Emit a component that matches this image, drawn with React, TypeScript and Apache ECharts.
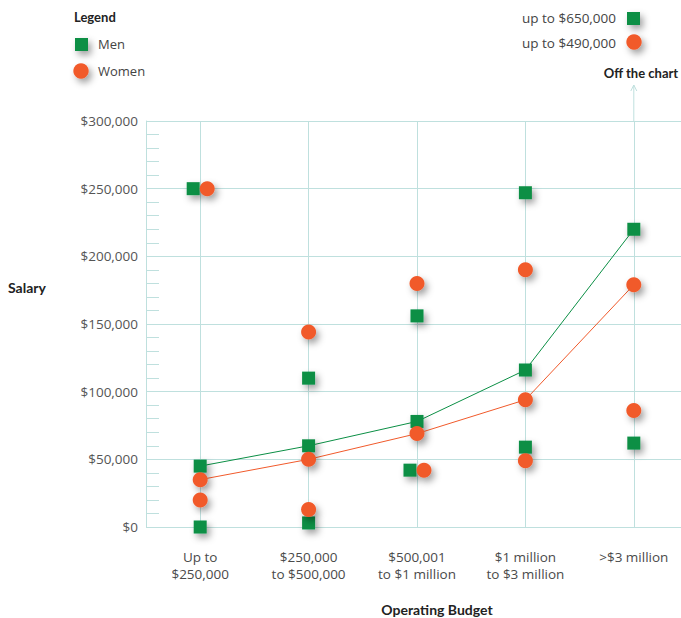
import React, { useEffect, useRef } from "react";
import * as echarts from "echarts";

const categories = [
  "Up to\n$250,000",
  "$250,000\nto $500,000",
  "$500,001\nto $1 million",
  "$1 million\nto $3 million",
  ">$3 million",
];
const yTicks = [0, 50000, 100000, 150000, 200000, 250000, 300000];
const menMedian = [45000, 60000, 78000, 116000, 220000];
const womenMedian = [35000, 50000, 69000, 94000, 179000];
const menOther: [number, number][] = [
  [0, 250000], [0, 0],
  [1, 110000], [1, 3000],
  [2, 156000], [2, 42000],
  [3, 247000], [3, 59000],
  [4, 62000],
];
const womenOther: [number, number][] = [
  [0, 250000], [0, 20000],
  [1, 144000], [1, 13000],
  [2, 180000], [2, 42000],
  [3, 190000], [3, 49000],
  [4, 86000],
];
const offChartMen = "up to $650,000";
const offChartWomen = "up to $490,000";

const GREEN = "#0b8f45";
const ORANGE = "#f15a2b";
const GRID = "#bfe0de";
const shadow = {
  shadowBlur: 7,
  shadowOffsetX: 3,
  shadowOffsetY: 4,
  shadowColor: "rgba(0,0,0,0.38)",
};

const overlaps = (a: [number, number], list: [number, number][]) =>
  list.some((b) => b[0] === a[0] && b[1] === a[1]);

export default function App() {
  const ref = useRef<HTMLDivElement>(null);
  useEffect(() => {
    if (!ref.current) return;
    const chart = echarts.init(ref.current, null, { renderer: "svg" });
    const option: any = {
      animation: false,
      backgroundColor: "#ffffff",
      grid: { left: 146, top: 121, width: 542, height: 406, containLabel: false },
      xAxis: {
        type: "category",
        data: categories,
        boundaryGap: true,
        axisLine: { show: false },
        axisTick: { show: false },
        splitLine: { show: false },
        axisLabel: {
          margin: 21,
          lineHeight: 17,
          fontFamily: "Open Sans",
          fontSize: 13.5,
          color: "#4a4a4a",
        },
      },
      yAxis: {
        type: "value",
        min: 0,
        max: 300000,
        interval: 50000,
        axisLine: { show: true, lineStyle: { color: GRID, width: 1 } },
        axisTick: { show: true, inside: true, length: 13, lineStyle: { color: GRID } },
        minorTick: { show: true, splitNumber: 5, length: 13, lineStyle: { color: GRID, width: 1 } },
        splitLine: { show: true, lineStyle: { color: GRID, width: 1 } },
        axisLabel: {
          margin: 8,
          fontFamily: "Open Sans",
          fontSize: 13.5,
          color: "#555",
          formatter: (v: number) =>
            yTicks.includes(v) ? "$" + v.toLocaleString("en-US") : "",
        },
      },
      series: [
        {
          name: "Men",
          type: "line",
          data: menMedian,
          symbol: "rect",
          symbolSize: 13,
          z: 3,
          lineStyle: { color: GREEN, width: 1 },
          itemStyle: { color: GREEN, opacity: 1, ...shadow },
          markLine: {
            silent: true,
            symbol: "none",
            label: { show: false },
            lineStyle: { color: GRID, width: 1, type: "solid" },
            data: categories.map((c) => ({ xAxis: c })),
            z: 1,
          },
        },
        {
          name: "Women",
          type: "line",
          data: womenMedian,
          symbol: "circle",
          symbolSize: 15,
          z: 4,
          lineStyle: { color: ORANGE, width: 1 },
          itemStyle: { color: ORANGE, opacity: 1, ...shadow },
        },
        {
          name: "Men",
          type: "scatter",
          symbol: "rect",
          symbolSize: 13,
          z: 3,
          itemStyle: { color: GREEN, opacity: 1, ...shadow },
          data: menOther.map((p) => ({
            value: p,
            symbolOffset: overlaps(p, womenOther) ? [-7, 0] : [0, 0],
          })),
        },
        {
          name: "Women",
          type: "scatter",
          symbol: "circle",
          symbolSize: 15,
          z: 4,
          itemStyle: { color: ORANGE, opacity: 1, ...shadow },
          data: womenOther.map((p) => ({
            value: p,
            symbolOffset: overlaps(p, menOther) ? [7, 0] : [0, 0],
          })),
        },
      ],
    };
    chart.setOption(option);

    const xLast = chart.convertToPixel({ xAxisIndex: 0 }, categories[categories.length - 1]) as number;
    const yMax = chart.convertToPixel({ yAxisIndex: 0 }, 300000) as number;
    const arrowTop = 85;

    const textBold = "bold 13px Lato";
    const textReg = "13px 'Open Sans'";
    chart.setOption({
      graphic: [
        { type: "text", x: 74, y: 17, style: { text: "Legend", font: textBold, fill: "#222", verticalAlign: "middle" } },
        { type: "rect", shape: { x: 75, y: 38, width: 13, height: 13 }, style: { fill: GREEN, ...shadow } },
        { type: "text", x: 98, y: 44, style: { text: "Men", font: textReg, fill: "#444", verticalAlign: "middle" } },
        { type: "circle", shape: { cx: 81, cy: 71, r: 7.7 }, style: { fill: ORANGE, ...shadow } },
        { type: "text", x: 98, y: 71, style: { text: "Women", font: textReg, fill: "#444", verticalAlign: "middle" } },

        { type: "text", x: 616, y: 18, style: { text: offChartMen, font: "13.5px 'Open Sans'", fill: "#444", align: "right", verticalAlign: "middle" } },
        { type: "rect", shape: { x: 627, y: 12, width: 13, height: 13 }, style: { fill: GREEN, ...shadow } },
        { type: "text", x: 616, y: 43, style: { text: offChartWomen, font: "13.5px 'Open Sans'", fill: "#444", align: "right", verticalAlign: "middle" } },
        { type: "circle", shape: { cx: 634, cy: 42, r: 7.7 }, style: { fill: ORANGE, ...shadow } },
        { type: "text", x: 641, y: 73, style: { text: "Off the chart", font: textBold, fill: "#222", align: "center", verticalAlign: "middle" } },
        { type: "line", shape: { x1: xLast, y1: yMax, x2: xLast, y2: arrowTop }, style: { stroke: GRID, lineWidth: 1 } },
        { type: "polyline", shape: { points: [[xLast - 3, arrowTop + 6], [xLast, arrowTop], [xLast + 3, arrowTop + 6]] }, style: { stroke: GRID, lineWidth: 1, fill: null } },

        { type: "text", x: 8, y: 287, style: { text: "Salary", font: "bold 14px Lato", fill: "#222", verticalAlign: "middle" } },
        { type: "text", x: 437, y: 609, style: { text: "Operating Budget", font: "bold 14px Lato", fill: "#222", align: "center", verticalAlign: "middle" } },
      ],
    });
    return () => chart.dispose();
  }, []);
  return (
    <div
      style={{ position: "absolute", left: 0, top: 0, width: 681, height: 618, overflow: "hidden" }}
    >
      <div ref={ref} style={{ width: 700, height: 618 }} />
    </div>
  );
}
